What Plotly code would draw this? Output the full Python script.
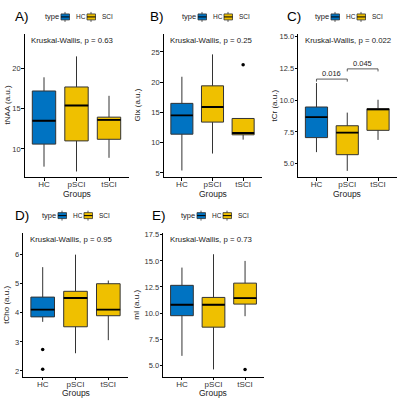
import plotly.graph_objects as go

W, H = 400, 399

groups = ["HC", "pSCI", "tSCI"]
group_type = ["HC", "SCI", "SCI"]
type_colors = {"HC": "#0073C2", "SCI": "#EFC000"}

panel_tags = ["A)", "B)", "C)", "D)", "E)"]
y_titles = ["tNAA (a.u.)", "Glx (a.u.)", "tCr (a.u.)", "tCho (a.u.)", "mI (a.u.)"]
kw_labels = ["Kruskal-Wallis, p = 0.63", "Kruskal-Wallis, p = 0.25",
             "Kruskal-Wallis, p = 0.022", "Kruskal-Wallis, p = 0.95",
             "Kruskal-Wallis, p = 0.73"]

# box statistics per panel: [HC, pSCI, tSCI]
tNAA_q1 = [10.6, 11.0, 11.2]
tNAA_med = [13.5, 15.4, 13.6]
tNAA_q3 = [17.2, 17.7, 13.95]
tNAA_lo = [7.8, 7.2, 8.9]
tNAA_hi = [18.9, 21.5, 16.6]
tNAA_out = [[], [], []]

Glx_q1 = [11.4, 13.4, 11.3]
Glx_med = [14.5, 15.9, 11.6]
Glx_q3 = [16.5, 19.4, 14.0]
Glx_lo = [5.4, 8.2, 10.5]
Glx_hi = [20.9, 24.6, 14.0]
Glx_out = [[], [], [22.9]]

tCr_q1 = [7.06, 5.72, 7.63]
tCr_med = [8.66, 7.45, 9.28]
tCr_q3 = [9.46, 7.99, 9.33]
tCr_lo = [5.92, 4.45, 6.88]
tCr_hi = [11.34, 9.02, 10.03]
tCr_out = [[], [], []]

tCho_q1 = [3.86, 3.52, 3.9]
tCho_med = [4.11, 4.51, 4.11]
tCho_q3 = [4.54, 4.74, 5.0]
tCho_lo = [3.69, 2.61, 3.06]
tCho_hi = [5.57, 6.0, 5.11]
tCho_out = [[2.74, 2.06], [], []]

mI_q1 = [9.75, 8.65, 10.86]
mI_med = [10.8, 10.8, 11.43]
mI_q3 = [12.66, 11.5, 12.87]
mI_lo = [5.9, 4.6, 9.7]
mI_hi = [14.36, 15.64, 15.0]
mI_out = [[], [], [4.6]]

# pairwise comparisons (panel C)
tCr_pairs = [(1, 2), (2, 3)]
tCr_pair_labels = ["0.016", "0.045"]
tCr_pair_y = [11.65, 12.45]

y_ranges = [[6.5, 24.3], [4.3, 28.0], [3.96, 15.2], [1.8, 6.76], [3.89, 17.72]]
y_ticks = [[10, 15, 20], [5, 10, 15, 20, 25], [5, 7.5, 10, 12.5, 15],
           [2, 3, 4, 5, 6], [5, 7.5, 10, 12.5, 15, 17.5]]
y_ticktext = [["10", "15", "20"], ["5", "10", "15", "20", "25"],
              ["5.0", "7.5", "10.0", "12.5", "15.0"], ["2", "3", "4", "5", "6"],
              ["5.0", "7.5", "10.0", "12.5", "15.0", "17.5"]]

panels = [
    (tNAA_q1, tNAA_med, tNAA_q3, tNAA_lo, tNAA_hi, tNAA_out),
    (Glx_q1, Glx_med, Glx_q3, Glx_lo, Glx_hi, Glx_out),
    (tCr_q1, tCr_med, tCr_q3, tCr_lo, tCr_hi, tCr_out),
    (tCho_q1, tCho_med, tCho_q3, tCho_lo, tCho_hi, tCho_out),
    (mI_q1, mI_med, mI_q3, mI_lo, mI_hi, mI_out),
]

# layout in pixels: (left, right, top, bottom) of each plot area
boxes_px = [
    (24.5, 128.5, 32, 176),
    (163.5, 261.5, 32, 176),
    (298, 396.5, 32, 176),
    (23, 128, 231.7, 376.7),
    (163, 264, 231.7, 376.7),
]
ytitle_x = [7, 137, 274, 7, 137]
tag_x = [22, 157, 294, 22, 159]
legend_x = [43, 180, 313, 40, 179]


def px(x):
    return x / W


def py(y):
    return 1 - y / H


FONT = "Liberation Sans, Arial, sans-serif"
BOX_W = 0.72

fig = go.Figure()
layout = dict(width=W, height=H, margin=dict(l=0, r=0, t=0, b=0),
              paper_bgcolor="white", plot_bgcolor="white", showlegend=False,
              font=dict(family=FONT, size=8, color="#222"))
annotations = []
shapes = []


def txt(x, y, text, size, xanchor="center", yanchor="middle", angle=0,
        color="#222"):
    return dict(x=px(x), y=py(y), xref="paper", yref="paper", text=text,
                showarrow=False, xanchor=xanchor, yanchor=yanchor,
                textangle=angle, font=dict(size=size, color=color))


for i, (q1, med, q3, lo, hi, outs) in enumerate(panels):
    n = i + 1
    xa = "x" if n == 1 else f"x{n}"
    ya = "y" if n == 1 else f"y{n}"
    L, R, T, B = boxes_px[i]
    for j, g in enumerate(groups):
        xpos = j + 1
        col = type_colors[group_type[j]]
        fig.add_trace(go.Box(
            x=[xpos], q1=[q1[j]], median=[med[j]], q3=[q3[j]],
            lowerfence=[lo[j]], upperfence=[hi[j]],
            width=BOX_W, whiskerwidth=0, fillcolor=col,
            line=dict(color="#333333", width=1), boxpoints=False,
            xaxis=xa, yaxis=ya, hoverinfo="skip"))
        fig.add_trace(go.Scatter(
            x=[xpos - BOX_W / 2, xpos + BOX_W / 2], y=[med[j], med[j]],
            mode="lines", line=dict(color="black", width=1.8),
            xaxis=xa, yaxis=ya, hoverinfo="skip"))
        if outs[j]:
            fig.add_trace(go.Scatter(
                x=[xpos] * len(outs[j]), y=outs[j], mode="markers",
                marker=dict(color="black", size=3.5),
                xaxis=xa, yaxis=ya, hoverinfo="skip"))

    xkey = "xaxis" if n == 1 else f"xaxis{n}"
    ykey = "yaxis" if n == 1 else f"yaxis{n}"
    layout[xkey] = dict(domain=[px(L), px(R)], anchor=ya, range=[0.4, 3.6],
                        tickvals=[1, 2, 3], ticktext=groups, showline=True,
                        linecolor="black", linewidth=0.8, ticks="outside",
                        ticklen=2.5, tickcolor="black", tickwidth=0.8,
                        showgrid=False, zeroline=False, ticklabelstandoff=-3,
                        tickfont=dict(size=8, color="#333"))
    layout[ykey] = dict(domain=[py(B), py(T)], anchor=xa, range=y_ranges[i],
                        tickvals=y_ticks[i], ticktext=y_ticktext[i],
                        showline=True, linecolor="black", linewidth=0.8,
                        ticks="outside", ticklen=2.5, tickcolor="black",
                        tickwidth=0.8, showgrid=False, zeroline=False,
                        ticklabelstandoff=-1,
                        tickfont=dict(size=7.5, color="#333"))

    annotations.append(txt(ytitle_x[i], (T + B) / 2, y_titles[i], 8,
                           angle=-90))
    annotations.append(txt((L + R) / 2, B + 16.5, "Groups", 8.5))
    annotations.append(txt(L + 4.5, T + 6.5, kw_labels[i], 7.8,
                           xanchor="left"))
    annotations.append(txt(tag_x[i], T - 17, panel_tags[i], 13.5,
                           color="black"))
    lx = legend_x[i]
    ly = T - 17
    annotations.append(txt(lx, ly, "type", 7.5, xanchor="left"))
    kx = lx + 18
    for t in ["HC", "SCI"]:
        shapes.append(dict(type="line", xref="paper", yref="paper",
                           x0=px(kx + 4), x1=px(kx + 4), y0=py(ly - 5),
                           y1=py(ly + 5), line=dict(color="#333", width=0.8)))
        shapes.append(dict(type="rect", xref="paper", yref="paper",
                           x0=px(kx), x1=px(kx + 8.5), y0=py(ly - 3),
                           y1=py(ly + 3), fillcolor=type_colors[t],
                           line=dict(color="#333", width=0.8)))
        shapes.append(dict(type="line", xref="paper", yref="paper",
                           x0=px(kx), x1=px(kx + 8.5), y0=py(ly), y1=py(ly),
                           line=dict(color="black", width=1)))
        annotations.append(txt(kx + 12.5, ly, t, 6.5, xanchor="left"))
        kx += 26

# pairwise brackets in panel C
for (a, b), lab, yv in zip(tCr_pairs, tCr_pair_labels, tCr_pair_y):
    fig.add_trace(go.Scatter(x=[a, a, b, b], y=[yv - 0.2, yv, yv, yv - 0.2],
                             mode="lines", line=dict(color="#333", width=0.8),
                             xaxis="x3", yaxis="y3", hoverinfo="skip"))
    annotations.append(dict(x=(a + b) / 2, y=yv, xref="x3", yref="y3",
                            text=lab, showarrow=False, yanchor="bottom",
                            xanchor="center", yshift=-1,
                            font=dict(size=7.5, color="#222")))

layout["annotations"] = annotations
layout["shapes"] = shapes
fig.update_layout(**layout)
fig.write_html("out.html", config={"displayModeBar": False},
               post_script="document.body.style.margin='0';"
                           "document.body.style.padding='0';")
